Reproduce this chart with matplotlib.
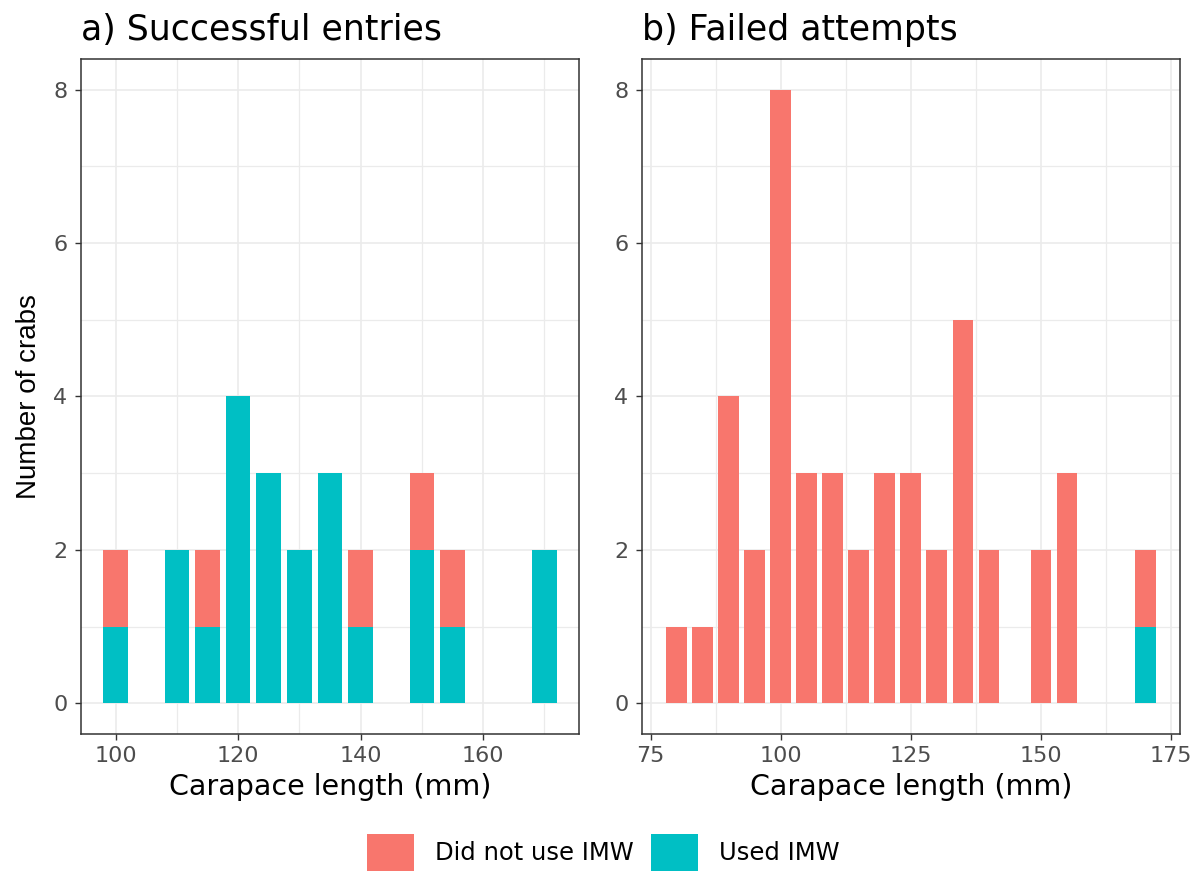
import matplotlib
matplotlib.use("Agg")
import matplotlib.pyplot as plt
from matplotlib.patches import Patch
from matplotlib.ticker import MultipleLocator

# Bin centres (carapace length, mm) and crab counts per group
length_success = [100, 110, 115, 120, 125, 130, 135, 140, 150, 155, 170]
success_used = [1, 2, 1, 4, 3, 2, 3, 1, 2, 1, 2]
success_not_used = [1, 0, 1, 0, 0, 0, 0, 1, 1, 1, 0]

length_failed = [80, 85, 90, 95, 100, 105, 110, 115, 120, 125, 130, 135, 140, 150, 155, 170]
failed_used = [0, 0, 0, 0, 0, 0, 0, 0, 0, 0, 0, 0, 0, 0, 0, 1]
failed_not_used = [1, 1, 4, 2, 8, 3, 3, 2, 3, 3, 2, 5, 2, 2, 3, 1]

group_labels = ["Did not use IMW", "Used IMW"]
panel_titles = ["a) Successful entries", "b) Failed attempts"]
x_major_step = [20, 25]
y_ticks = [0, 2, 4, 6, 8]

COL_NOT = "#F8766D"
COL_USED = "#00BFC4"
BAR_W = 4.0

plt.rcParams["font.family"] = ["DejaVu Sans"]

fig = plt.figure(figsize=(12, 8.72), dpi=100, facecolor="white")
ax_a = fig.add_axes([0.06725, 0.1583, 0.4155, 0.774])
ax_b = fig.add_axes([0.53475, 0.1583, 0.4486, 0.774])

panels = [
    (ax_a, length_success, success_used, success_not_used),
    (ax_b, length_failed, failed_used, failed_not_used),
]

for i, (ax, xs, used, not_used) in enumerate(panels):
    ax.set_axisbelow(True)
    ax.bar(xs, used, width=BAR_W, color=COL_USED, linewidth=0)
    ax.bar(xs, not_used, bottom=used, width=BAR_W, color=COL_NOT, linewidth=0)

    lo, hi = min(xs) - BAR_W / 2, max(xs) + BAR_W / 2
    span = hi - lo
    ax.set_xlim(lo - 0.05 * span, hi + 0.05 * span)
    ymax = max(y_ticks)
    ax.set_ylim(-0.05 * ymax, 1.05 * ymax)

    step = x_major_step[i]
    ax.xaxis.set_major_locator(MultipleLocator(step))
    ax.xaxis.set_minor_locator(MultipleLocator(step / 2))
    ax.set_yticks(y_ticks)
    ax.yaxis.set_minor_locator(MultipleLocator(1))

    ax.grid(which="major", color="#EBEBEB", linewidth=1.2)
    ax.grid(which="minor", color="#EBEBEB", linewidth=0.9)

    for sp in ax.spines.values():
        sp.set_color("#333333")
        sp.set_linewidth(1.1)

    ax.tick_params(which="major", length=4.5, width=1.0, color="#333333",
                   labelsize=16, labelcolor="#4D4D4D", pad=4)
    ax.tick_params(axis="y", which="major", pad=5)
    ax.tick_params(which="minor", length=0)

    ax.set_xlabel("Carapace length (mm)", fontsize=20.5, labelpad=5)
    ax.set_title(panel_titles[i], loc="left", fontsize=25, pad=14)

ax_a.set_ylabel("Number of crabs", fontsize=20, family=["Liberation Sans", "DejaVu Sans"],
                labelpad=8)

handles = [Patch(facecolor=COL_NOT, edgecolor="none"),
           Patch(facecolor=COL_USED, edgecolor="none")]
fig.legend(handles, group_labels, loc="upper center", bbox_to_anchor=(0.5025, 0.0436),
           ncol=2, frameon=False, fontsize=17.5, handlelength=1.95, handleheight=1.95,
           handletextpad=0.85, columnspacing=0.72, borderpad=0, borderaxespad=0)

fig.savefig("out.png", dpi=100, facecolor="white")
